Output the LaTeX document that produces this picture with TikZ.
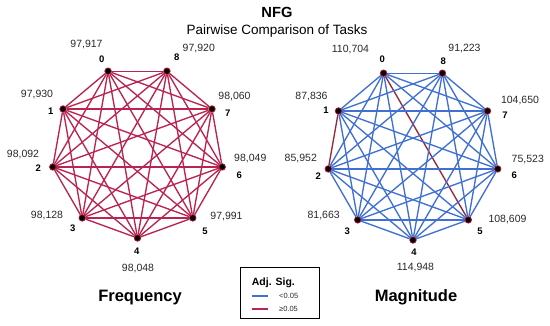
\documentclass[tikz,border=0pt]{standalone}
\usepackage{fontspec}
\setmainfont{Liberation Sans}
\usetikzlibrary{backgrounds}
\definecolor{crim}{RGB}{185,36,80}
\definecolor{eblue}{RGB}{64,112,212}
\definecolor{ered}{RGB}{150,40,55}
\definecolor{halo}{RGB}{170,20,50}
\definecolor{numgray}{RGB}{40,40,40}
\begin{document}
\begin{tikzpicture}[x=1pt,y=-1pt,
  dot/.style={circle,fill=black,draw=halo,line width=0.8pt,minimum size=6.5pt,inner sep=0pt},
  ledge/.style={crim,line width=1.35pt},
  bedge/.style={eblue,line width=1.35pt},
  redge/.style={ered,line width=1.35pt},
  idx/.style={font=\fontsize{9.5}{10}\selectfont\bfseries,inner sep=0pt},
  val/.style={font=\fontsize{10.5}{11}\selectfont,text=numgray,inner sep=0pt},
  big/.style={font=\fontsize{16.5}{18}\selectfont\bfseries,inner sep=0pt},
  leg/.style={font=\fontsize{7.5}{8}\selectfont,text=numgray,inner sep=0pt,anchor=west}
]
\useasboundingbox (0,0) rectangle (550,326);

% titles
\node[font=\fontsize{14.7}{16}\selectfont\bfseries,inner sep=0pt] (title) at (277,12.5) {NFG};
\node[font=\fontsize{13.5}{15}\selectfont,inner sep=0pt] (subtitle) at (277,31) {Pairwise Comparison of Tasks};

% vertices
\foreach \k in {0,...,8}{
  \node[dot] (L\k) at ({137.5+86*cos(110+40*\k)},{152-86*sin(110+40*\k)}) {};
  \node[dot] (R\k) at ({413+86*cos(110+40*\k)},{154-86*sin(110+40*\k)}) {};
}

% edges
\begin{pgfonlayer}{background}
\foreach \i in {0,...,7}{
  \pgfmathtruncatemacro\s{\i+1}
  \foreach \j in {\s,...,8}{
    \draw[ledge] (L\i) -- (L\j);
    \pgfmathtruncatemacro\code{\i*10+\j}
    \ifnum\code=5 \def\st{redge}\else\ifnum\code=12 \def\st{redge}\else\def\st{bedge}\fi\fi
    \draw[\st] (R\i) -- (R\j);
  }
}
\end{pgfonlayer}

% left labels
\node[idx] (li0) at (101.7,59) {0};
\node[idx] (li8) at (176.7,57.3) {8};
\node[idx] (li7) at (227.7,113.3) {7};
\node[idx] (li6) at (239.3,175.7) {6};
\node[idx] (li5) at (205,231) {5};
\node[idx] (li4) at (136.7,251.7) {4};
\node[idx] (li3) at (72.7,228.3) {3};
\node[idx] (li2) at (38.3,168.3) {2};
\node[idx] (li1) at (50.7,111) {1};

\node[val] (lv0) at (86.5,45) {97,917};
\node[val] (lv8) at (198.8,49) {97,920};
\node[val] (lv7) at (234.5,96.7) {98,060};
\node[val] (lv6) at (250.3,159) {98,049};
\node[val] (lv5) at (226.5,216.7) {97,991};
\node[val] (lv4) at (138,269) {98,048};
\node[val] (lv3) at (47,216) {98,128};
\node[val] (lv2) at (23,154.3) {98,092};
\node[val] (lv1) at (37,94.3) {97,930};

% right labels
\node[idx] (ri0) at (382.3,59.3) {0};
\node[idx] (ri8) at (443.3,61.7) {8};
\node[idx] (ri7) at (505,115) {7};
\node[idx] (ri6) at (514.3,175.7) {6};
\node[idx] (ri5) at (480,231) {5};
\node[idx] (ri4) at (414,252.3) {4};
\node[idx] (ri3) at (347.3,231) {3};
\node[idx] (ri2) at (318.3,175.7) {2};
\node[idx] (ri1) at (326,110) {1};

\node[val] (rv0) at (350.5,50) {110,704};
\node[val] (rv8) at (464.5,48.3) {91,223};
\node[val] (rv7) at (520,101) {104,650};
\node[val] (rv6) at (527.8,160) {75,523};
\node[val] (rv5) at (507.5,219.3) {108,609};
\node[val] (rv4) at (415.5,267.7) {114,948};
\node[val] (rv3) at (323.7,216) {81,663};
\node[val] (rv2) at (300.8,158.3) {85,952};
\node[val] (rv1) at (311.5,96.7) {87,836};

% captions
\node[big] (freq) at (140,297.5) {Frequency};
\node[big] (mag) at (416,297.5) {Magnitude};

% legend
\node[draw=black,line width=1.1pt,minimum width=79.3pt,minimum height=51pt,inner sep=0pt] (legbox) at (279.7,292.9) {};
\node[font=\fontsize{10.5}{11}\selectfont\bfseries,inner sep=0pt,anchor=west] (legt) at (251.7,283.3) {Adj. Sig.};
\coordinate (b1) at (251.7,296);
\coordinate (b2) at (268.3,296);
\coordinate (r1) at (251.7,309);
\coordinate (r2) at (268.3,309);
\draw[bedge] (b1) -- (b2);
\draw[ledge] (r1) -- (r2);
\node[leg] (lt1) at (279,296) {<0.05};
\node[leg] (lt2) at (279,309) {≥0.05};
\end{tikzpicture}
\end{document}
